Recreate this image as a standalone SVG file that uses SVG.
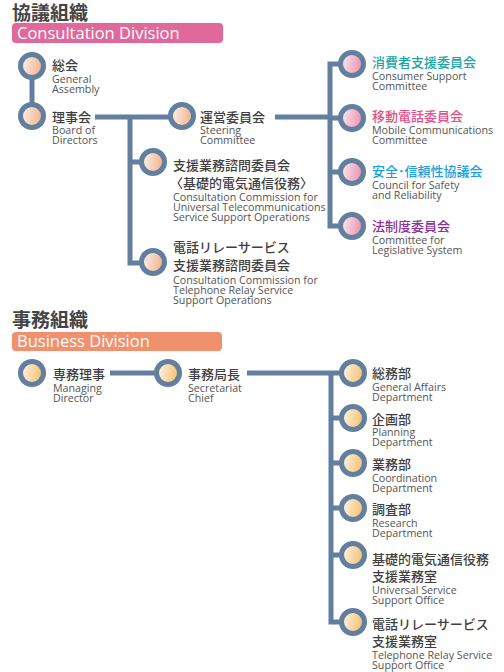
<svg xmlns="http://www.w3.org/2000/svg" width="504" height="672" viewBox="0 0 504 672">
<defs>
<linearGradient id="gPeach" x1="0" y1="0" x2="1" y2="0.2"><stop offset="0" stop-color="#fdf6f2"/><stop offset="1" stop-color="#f2b48e"/></linearGradient>
<linearGradient id="gPink" x1="0" y1="0" x2="1" y2="0.2"><stop offset="0" stop-color="#fdf2f6"/><stop offset="1" stop-color="#ec93b0"/></linearGradient>
<linearGradient id="gYellow" x1="0" y1="0" x2="1" y2="0.2"><stop offset="0" stop-color="#fdf8ee"/><stop offset="1" stop-color="#f4c274"/></linearGradient>
<style>
.ln{stroke:#627f9f;stroke-width:5;fill:none}
.c{stroke:#627f9f;stroke-width:5}
.pe{fill:url(#gPeach)}
.pk{fill:url(#gPink)}
.ye{fill:url(#gYellow)}
.jp{font-family:"Noto Sans CJK JP","Noto Sans",sans-serif;font-size:13px;font-weight:500;fill:#3f3f3f}
.en{font-family:"Open Sans","Noto Sans",sans-serif;font-size:10.7px;fill:#555}
.ttl{font-family:"Noto Sans CJK JP",sans-serif;font-size:19px;font-weight:700;fill:#444}
.bar{font-family:"Open Sans","Noto Sans",sans-serif;font-size:16.5px;fill:#fff}
</style>
</defs>
<g id="header-consultation">
<text class="ttl" x="12" y="20">協議組織</text>
<rect x="12" y="23" width="211" height="20" rx="4" fill="#e0689a"/>
<text class="bar" x="17" y="39">Consultation Division</text>
</g>
<g id="header-business">
<text class="ttl" x="12" y="327">事務組織</text>
<rect x="12" y="332" width="210" height="19" rx="4" fill="#f0906c"/>
<text class="bar" x="17" y="347">Business Division</text>
</g>
<g id="connectors">
<path class="ln" d="M32 67 V116"/>
<path class="ln" d="M95 117 H170"/>
<path class="ln" d="M130 117 V263 H145 M130 162 H145"/>
<path class="ln" d="M275 117 H330"/>
<path class="ln" d="M345 64 H330 V226 H345 M330 118 H345 M330 172 H345"/>
<path class="ln" d="M110 373 H160"/>
<path class="ln" d="M247 373 H345 M331 373 V622 H345 M331 418 H345 M331 463 H345 M331 508 H345 M331 555 H345"/>
</g>
<g id="n-soukai">
<circle class="c pe" cx="32" cy="66" r="11.5"/>
<text class="jp" x="52" y="70">総会</text>
<text class="en" x="52" y="83">General</text>
<text class="en" x="52" y="93">Assembly</text>
</g>
<g id="n-rijikai">
<circle class="c pe" cx="32" cy="116" r="11.5"/>
<text class="jp" x="52" y="122">理事会</text>
<text class="en" x="52" y="134">Board of</text>
<text class="en" x="52" y="144">Directors</text>
</g>
<g id="n-unei">
<circle class="c pe" cx="182" cy="116" r="11.5"/>
<text class="jp" x="200" y="122">運営委員会</text>
<text class="en" x="200" y="134">Steering</text>
<text class="en" x="200" y="144">Committee</text>
</g>
<g id="n-shien">
<circle class="c pe" cx="153" cy="162" r="11.5"/>
<text class="jp" x="173" y="170">支援業務諮問委員会</text>
<text class="jp" x="170" y="188">〈基礎的電気通信役務〉</text>
<text class="en" x="173" y="201">Consultation Commission for</text>
<text class="en" x="173" y="211">Universal Telecommunications</text>
<text class="en" x="173" y="221">Service Support Operations</text>
</g>
<g id="n-relay">
<circle class="c pe" cx="153" cy="262" r="11.5"/>
<text class="jp" x="173" y="252">電話リレーサービス</text>
<text class="jp" x="173" y="270">支援業務諮問委員会</text>
<text class="en" x="173" y="284">Consultation Commission for</text>
<text class="en" x="173" y="294">Telephone Relay Service</text>
<text class="en" x="173" y="304">Support Operations</text>
</g>
<g id="n-consumer">
<circle class="c pk" cx="352" cy="64" r="11.5"/>
<text class="jp" x="372" y="67" style="fill:#1aa5a5">消費者支援委員会</text>
<text class="en" x="372" y="80">Consumer Support</text>
<text class="en" x="372" y="90">Committee</text>
</g>
<g id="n-mobile">
<circle class="c pk" cx="352" cy="118" r="11.5"/>
<text class="jp" x="372" y="121" style="fill:#e6508a">移動電話委員会</text>
<text class="en" x="372" y="134">Mobile Communications</text>
<text class="en" x="372" y="144">Committee</text>
</g>
<g id="n-safety">
<circle class="c pk" cx="352" cy="172" r="11.5"/>
<text class="jp" x="372" y="176" style="fill:#1a9fe0">安全･信頼性協議会</text>
<text class="en" x="372" y="189">Council for Safety</text>
<text class="en" x="372" y="199">and Reliability</text>
</g>
<g id="n-legal">
<circle class="c pk" cx="352" cy="226" r="11.5"/>
<text class="jp" x="372" y="231" style="fill:#8a2f9c">法制度委員会</text>
<text class="en" x="372" y="244">Committee for</text>
<text class="en" x="372" y="254">Legislative System</text>
</g>
<g id="n-senmu">
<circle class="c ye" cx="32" cy="373" r="11.5"/>
<text class="jp" x="53" y="379">専務理事</text>
<text class="en" x="53" y="392">Managing</text>
<text class="en" x="53" y="402">Director</text>
</g>
<g id="n-jimukyoku">
<circle class="c ye" cx="168" cy="373" r="11.5"/>
<text class="jp" x="188" y="379">事務局長</text>
<text class="en" x="188" y="392">Secretariat</text>
<text class="en" x="188" y="402">Chief</text>
</g>
<g id="n-soumu">
<circle class="c ye" cx="353" cy="373" r="11.5"/>
<text class="jp" x="372" y="378">総務部</text>
<text class="en" x="372" y="391">General Affairs</text>
<text class="en" x="372" y="401">Department</text>
</g>
<g id="n-kikaku">
<circle class="c ye" cx="353" cy="418" r="11.5"/>
<text class="jp" x="372" y="424">企画部</text>
<text class="en" x="372" y="436">Planning</text>
<text class="en" x="372" y="446">Department</text>
</g>
<g id="n-gyoumu">
<circle class="c ye" cx="353" cy="463" r="11.5"/>
<text class="jp" x="372" y="469">業務部</text>
<text class="en" x="372" y="482">Coordination</text>
<text class="en" x="372" y="492">Department</text>
</g>
<g id="n-chousa">
<circle class="c ye" cx="353" cy="508" r="11.5"/>
<text class="jp" x="372" y="514">調査部</text>
<text class="en" x="372" y="527">Research</text>
<text class="en" x="372" y="537">Department</text>
</g>
<g id="n-universal">
<circle class="c ye" cx="353" cy="555" r="11.5"/>
<text class="jp" x="372" y="564">基礎的電気通信役務</text>
<text class="jp" x="372" y="581">支援業務室</text>
<text class="en" x="372" y="594">Universal Service</text>
<text class="en" x="372" y="604">Support Office</text>
</g>
<g id="n-relayoffice">
<circle class="c ye" cx="353" cy="622" r="11.5"/>
<text class="jp" x="372" y="629">電話リレーサービス</text>
<text class="jp" x="372" y="646">支援業務室</text>
<text class="en" x="372" y="659">Telephone Relay Service</text>
<text class="en" x="372" y="669">Support Office</text>
</g>
</svg>
